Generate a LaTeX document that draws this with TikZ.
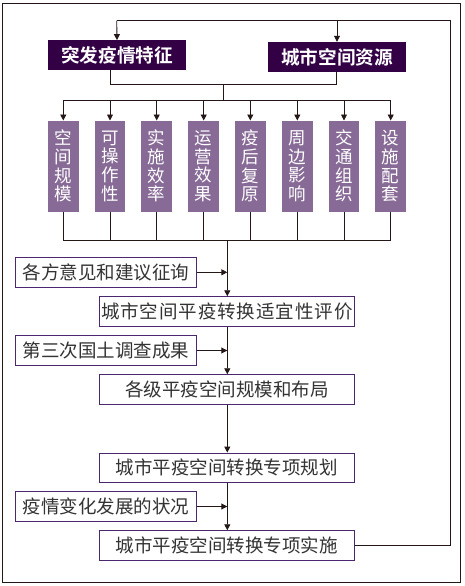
\documentclass[tikz,border=0pt]{standalone}
\usepackage{fontspec}
\newfontfamily\cjk{Noto Sans CJK SC}[BoldFont=Noto Sans CJK SC Bold]
\newfontfamily\cjkwide{Noto Sans CJK SC}[LetterSpace=5]
\usetikzlibrary{arrows.meta}
\definecolor{darkp}{HTML}{330046}
\definecolor{midp}{HTML}{876A96}
\definecolor{bordp}{HTML}{4B2770}
\definecolor{linec}{HTML}{231815}
\definecolor{txtc}{HTML}{333333}
\tikzset{
  conn/.style={draw=linec, line width=0.9pt},
  arr/.style={conn, -{Triangle[width=6pt,length=6pt]}},
  darkbox/.style={fill=darkp, draw=none, text=white, minimum width=137.4pt, minimum height=30pt, inner sep=0pt, font=\cjk\bfseries\fontsize{18.6}{20}\selectfont},
  vbox/.style={fill=midp, draw=none, text=white, minimum width=30.7pt, minimum height=91pt, inner sep=0pt, align=center, font=\cjk\fontsize{17.5}{18.7}\selectfont},
  sidebox/.style={draw=bordp, line width=0.9pt, fill=white, text=txtc, minimum width=181.4pt, minimum height=29.6pt, inner sep=0pt, font=\cjk\fontsize{18.5}{20}\selectfont},
  mainbox/.style={draw=bordp, line width=0.9pt, fill=white, text=txtc, minimum width=255pt, minimum height=29.6pt, inner sep=0pt, font=\cjk\fontsize{18.5}{20}\selectfont},
}
\begin{document}
\begin{tikzpicture}[x=1pt,y=-1pt]
\useasboundingbox (0,0) rectangle (465,586);
\draw[draw=linec, line width=1pt] (2.7,3.3) rectangle (460.3,582.3);

\node[darkbox] (f1) at (117,55.3) {突发疫情特征};
\node[darkbox] (f2) at (337,57) {城市空间资源};

\foreach \i/\x/\t in {1/63.3/空\\间\\规\\模, 2/110/可\\操\\作\\性, 3/156.7/实\\施\\效\\率, 4/203.7/运\\营\\效\\果, 5/250.3/疫\\后\\复\\原, 6/297.3/周\\边\\影\\响, 7/344/交\\通\\组\\织, 8/390.7/设\\施\\配\\套}
  \node[vbox] (v\i) at (\x,166.2) {\t};

\node[sidebox] (s1) at (106,272.3) {各方意见和建议征询};
\node[mainbox, font=\cjkwide\fontsize{18.5}{20}\selectfont] (m1) at (226.8,311.5) {城市空间平疫转换适宜性评价};
\node[sidebox] (s2) at (106,350.5) {第三次国土调查成果};
\node[mainbox] (m2) at (226.8,389.5) {各级平疫空间规模和布局};
\node[mainbox] (m3) at (226.8,467.8) {城市平疫空间转换专项规划};
\node[sidebox] (s3) at (106,506.5) {疫情变化发展的状况};
\node[mainbox] (m4) at (226.8,545.5) {城市平疫空间转换专项实施};

% feedback loop
\coordinate (tr) at (450,20.7);
\coordinate (tl) at (116.7,20.7);
\draw[conn] (m4.east) -| (tr) -- (tl);
\draw[arr] (tl) -- (f1.north);
\draw[arr] (f2.north |- tl) -- (f2.north);

% merge of two top boxes
\coordinate (j1) at (223.3,84);
\coordinate (j2) at (223.3,100);
\draw[conn] ([xshift=-6.5pt]f1.south) |- (j1);
\draw[conn] ([xshift=-1pt]f2.south) |- (j1);
\draw[conn] (j1) -- (j2);
\draw[conn] (v1.north |- j2) -- (v8.north |- j2);
\foreach \i in {1,...,8} \draw[arr] (v\i.north |- j2) -- (v\i.north);

% merge of vertical boxes
\coordinate (j3) at (227.3,240.7);
\foreach \i in {1,...,8} \draw[conn] (v\i.south) -- (v\i.south |- j3);
\draw[conn] (v1.south |- j3) -- (v8.south |- j3);
\draw[arr] (j3) -- (j3 |- m1.north);
\draw[arr] (s1.east) -- (j3 |- s1.east);

\draw[arr] (j3 |- m1.south) -- (j3 |- m2.north);
\draw[arr] (s2.east) -- (j3 |- s2.east);
\draw[arr] (j3 |- m2.south) -- (j3 |- m3.north);
\draw[arr] (j3 |- m3.south) -- (j3 |- m4.north);
\draw[arr] (s3.east) -- (j3 |- s3.east);
\end{tikzpicture}
\end{document}
